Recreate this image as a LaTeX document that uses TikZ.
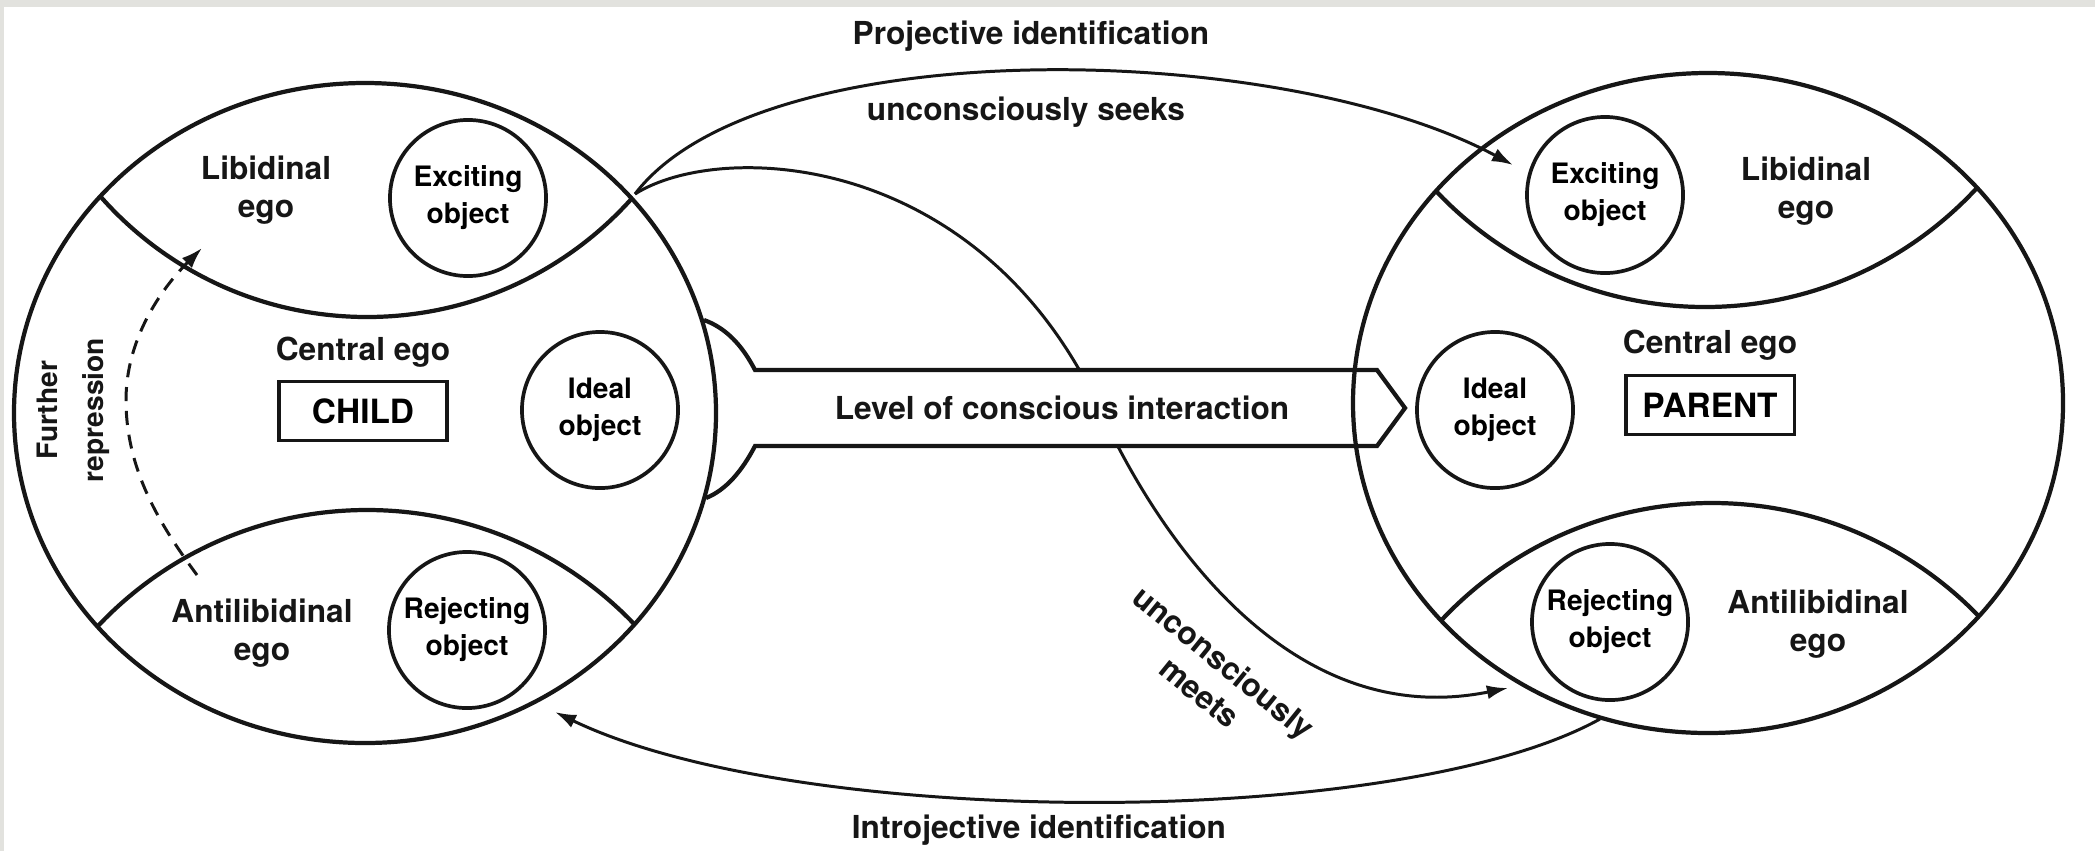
\documentclass[tikz,border=0pt]{standalone}
\usepackage{fontspec}
\setmainfont{TeX Gyre Heros}
\usepackage{tikz}
\usetikzlibrary{positioning,arrows.meta,calc}
\definecolor{ink}{HTML}{161616}
\definecolor{scanedge}{HTML}{E2E2DE}
\tikzset{
  psyche/.style={draw=ink,line width=1.2pt},
  objring/.style={circle,draw=ink,line width=1.05pt,minimum size=1.56cm,inner sep=0pt,align=center,font=\bfseries\fontsize{8}{10.5}\selectfont},
  egobox/.style={draw=ink,line width=0.9pt,minimum width=1.68cm,minimum height=0.59cm,inner sep=0pt,font=\bfseries\fontsize{9.5}{11}\selectfont},
  lbl/.style={align=center,text=ink,font=\bfseries\fontsize{9}{11}\selectfont},
  link/.style={draw=ink,line width=0.85pt,-{Latex[length=6pt,width=4pt]}},
}

\begin{document}
\begin{tikzpicture}[x=0.01cm,y=-0.01cm]
    \fill[white](0,0)rectangle(2095,851);
    \fill[scanedge](0,0)rectangle(2095,7);\fill[scanedge](0,0)rectangle(4,851);
    \useasboundingbox(0,0)rectangle(2095,851);
    % centres of the two selves
    \coordinate(cC)at(365,413);\coordinate(pC)at(1708,403);
    % free ends of the links
    \coordinate(cjoin)at(635,194);\coordinate(seekend)at(1513,165);
    \coordinate(meetend)at(1508,688);
    \coordinate(introstart)at(1600,719);\coordinate(introend)at(555,712);
    \coordinate(repfrom)at(197,575);\coordinate(repto)at(202,248);
    % unconsciously meets (passes under the band)
    \draw[link](cjoin)..controls(720,140)and(980,150)..(1100,410)..controls(1168,557)and(1300,730)..(meetend);
    % level of conscious interaction
    \draw[psyche,fill=white](704,320)..controls(726,328)and(742,345)..(755,370)--(1377,370)--(1405,408)--(1377,446)--(755,446)..controls(742,471)and(726,490)..(706,498);
    \node[lbl](level)at(1062,408){Level of conscious interaction};
    % the two selves and their split-off parts
    \draw[psyche](cC)ellipse[x radius=351,y radius=330];
    \draw[psyche](pC)ellipse[x radius=355,y radius=330];
    \begin{scope}\clip(cC)ellipse[x radius=351,y radius=330];
      \draw[psyche](367,-38)circle[radius=355];\draw[psyche](367,880)circle[radius=370];
    \end{scope}
    \begin{scope}\clip(pC)ellipse[x radius=355,y radius=330];
      \draw[psyche](1705,-63)circle[radius=370];\draw[psyche](1712,874)circle[radius=371];
    \end{scope}
    % child
    \node[objring](cexc)at(468,198){Exciting\\object};
    \node[objring](cideal)at(600,410){Ideal\\object};
    \node[objring](crej)at(467,630){Rejecting\\object};
    \node[lbl](clib)at(266,190){Libidinal\\ego};
    \node[lbl](ccen)at(363,352){Central ego};
    \node[egobox](child)at(363,411){CHILD};
    \node[lbl](canti)at(262,633){Antilibidinal\\ego};
    \node[lbl,rotate=90,font=\bfseries\fontsize{8}{13}\selectfont](furth)at(73,410){Further\\repression};
    % parent
    \node[objring](pexc)at(1605,195){Exciting\\object};
    \node[objring](pideal)at(1495,410){Ideal\\object};
    \node[objring](prej)at(1610,622){Rejecting\\object};
    \node[lbl](plib)at(1806,191){Libidinal\\ego};
    \node[lbl](pcen)at(1710,345){Central ego};
    \node[egobox](parent)at(1710,405){PARENT};
    \node[lbl](panti)at(1818,624){Antilibidinal\\ego};
    % links between them
    \draw[link](cjoin)..controls(760,30)and(1280,40)..(seekend);
    \draw[link](introstart)..controls(1400,830)and(800,830)..(introend);
    \draw[link,dash pattern=on 4pt off 2.8pt](repfrom)..controls(160,525)and(126,470)..(126,400)..controls(126,340)and(160,290)..(repto);
    \node[lbl](proj)at(1031,36){Projective identification};
    \node[lbl](seeks)at(1026,112){unconsciously seeks};
    \node[lbl](intro)at(1039,830){Introjective identification};
    \node[lbl,rotate=-39](meets)at(1212,677){unconsciously\\meets};
  \end{tikzpicture}
\end{document}
